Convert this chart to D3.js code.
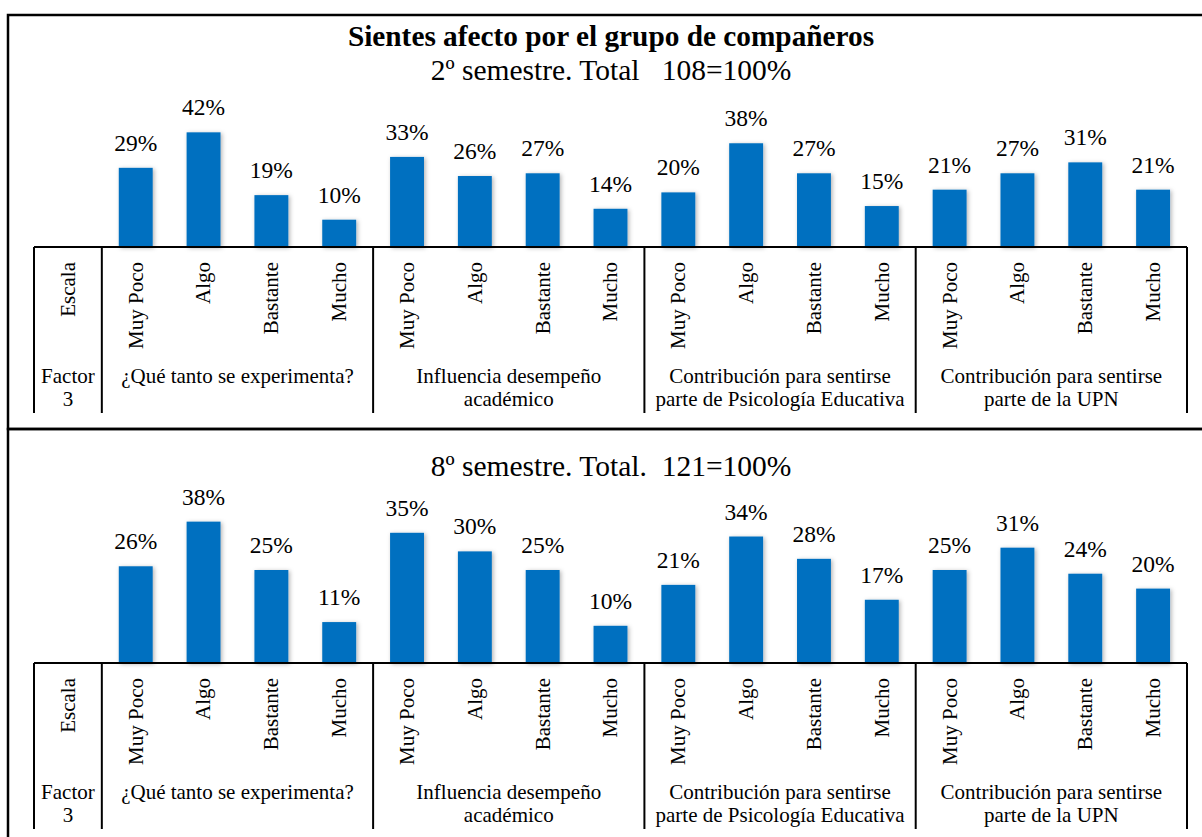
<!DOCTYPE html>
<html>
<head>
<meta charset="utf-8">
<script src="https://cdn.jsdelivr.net/npm/d3@7"></script>
<style>
  html, body { margin: 0; padding: 0; background: #fff; }
</style>
</head>
<body>
<div id="chart"></div>
<script>
// データ
const title = 'Sientes afecto por el grupo de compañeros';
const subtitle2 = '2º semestre. Total   108=100%';
const subtitle8 = '8º semestre. Total.  121=100%';
const scaleLabels = ['Muy Poco', 'Algo', 'Bastante', 'Mucho'];
const groupLabels = [
  ['¿Qué tanto se experimenta?'],
  ['Influencia desempeño', 'académico'],
  ['Contribución para sentirse', 'parte de Psicología Educativa'],
  ['Contribución para sentirse', 'parte de la UPN']
];
const values2 = [29, 42, 19, 10, 33, 26, 27, 14, 20, 38, 27, 15, 21, 27, 31, 21];
const values8 = [26, 38, 25, 11, 35, 30, 25, 10, 21, 34, 28, 17, 25, 31, 24, 20];

const width = 1202;
const height = 837;
const barColor = '#0070c0';

const svg = d3.select('#chart').append('svg')
  .attr('width', width)
  .attr('height', height)
  .attr('font-family', 'Liberation Serif, Times New Roman, serif')
  .attr('fill', '#000');

// 影のフィルター
svg.append('defs').append('filter')
  .attr('id', 'shadow')
  .attr('x', '-30%').attr('y', '-10%')
  .attr('width', '160%').attr('height', '130%')
  .append('feDropShadow')
  .attr('dx', 1.5).attr('dy', 1)
  .attr('stdDeviation', 2)
  .attr('flood-color', '#000')
  .attr('flood-opacity', 0.3);

// 列のキー: Escala + 4グループ x 4段階
const slots = ['escala'];
groupLabels.forEach(function (g, i) {
  scaleLabels.forEach(function (s, j) { slots.push(i + '-' + j); });
});

const xScale = d3.scaleBand()
  .domain(slots)
  .range([34, 1187])
  .padding(0);
const bw = xScale.bandwidth();

// 外枠
svg.append('rect')
  .attr('x', 8).attr('y', 15)
  .attr('width', 1210).attr('height', 414)
  .attr('fill', 'none').attr('stroke', '#000').attr('stroke-width', 2.5);
svg.append('rect')
  .attr('x', 8).attr('y', 429)
  .attr('width', 1210).attr('height', 430)
  .attr('fill', 'none').attr('stroke', '#000').attr('stroke-width', 2.5);

// タイトル
svg.append('text')
  .attr('x', 611).attr('y', 46)
  .attr('text-anchor', 'middle')
  .attr('font-size', 29.3)
  .attr('font-weight', 'bold')
  .text(title);

function drawPanel(opts) {
  const g = svg.append('g');
  const base = opts.base;
  const yScale = d3.scaleLinear()
    .domain([0, opts.yMax])
    .range([base, base - opts.yMax * opts.pxPerPct]);

  g.append('text')
    .attr('x', 611).attr('y', opts.subY)
    .attr('text-anchor', 'middle')
    .attr('xml:space', 'preserve')
    .style('white-space', 'pre')
    .attr('font-size', 29.5)
    .text(opts.subtitle);

  const data = opts.values.map(function (v, i) {
    return { key: slots[i + 1], value: v };
  });

  // バー
  g.selectAll('rect.bar')
    .data(data)
    .join('rect')
    .attr('class', 'bar')
    .attr('x', function (d) { return xScale(d.key) + bw * 0.25; })
    .attr('width', bw * 0.5)
    .attr('y', function (d) { return yScale(d.value); })
    .attr('height', function (d) { return base - yScale(d.value); })
    .attr('fill', barColor)
    .attr('filter', 'url(#shadow)');

  // 値ラベル
  g.selectAll('text.val')
    .data(data)
    .join('text')
    .attr('class', 'val')
    .attr('x', function (d) { return xScale(d.key) + bw / 2; })
    .attr('y', function (d) { return yScale(d.value) - 17; })
    .attr('text-anchor', 'middle')
    .attr('font-size', 23.5)
    .text(function (d) { return d.value + '%'; });

  // 表の線
  const bottom = base + 166;
  g.append('line')
    .attr('x1', 34).attr('x2', 1187)
    .attr('y1', base).attr('y2', base)
    .attr('stroke', '#000').attr('stroke-width', 2);

  const seps = [34, xScale('0-0'), xScale('1-0'), xScale('2-0'), xScale('3-0'), 1187];
  g.selectAll('line.sep')
    .data(seps)
    .join('line')
    .attr('class', 'sep')
    .attr('x1', function (d) { return d; })
    .attr('x2', function (d) { return d; })
    .attr('y1', base).attr('y2', bottom)
    .attr('stroke', '#000').attr('stroke-width', 2);

  // 回転ラベル
  const rotLabels = ['Escala'];
  groupLabels.forEach(function () { rotLabels.push.apply(rotLabels, scaleLabels); });
  g.selectAll('text.rot')
    .data(slots)
    .join('text')
    .attr('class', 'rot')
    .attr('transform', function (d) {
      return 'translate(' + (xScale(d) + bw / 2) + ',' + (base + 15) + ') rotate(-90)';
    })
    .attr('dy', '0.33em')
    .attr('text-anchor', 'end')
    .attr('font-size', 21)
    .text(function (d, i) { return rotLabels[i]; });

  // Factor 3
  const factor = g.append('text')
    .attr('text-anchor', 'middle')
    .attr('font-size', 21);
  ['Factor', '3'].forEach(function (t, i) {
    factor.append('tspan')
      .attr('x', xScale('escala') + bw / 2)
      .attr('y', base + 136 + i * 23)
      .text(t);
  });

  // グループラベル
  groupLabels.forEach(function (lines, gi) {
    const cx = (xScale(gi + '-0') + xScale(gi + '-3') + bw) / 2;
    const t = g.append('text')
      .attr('text-anchor', 'middle')
      .attr('font-size', 21);
    lines.forEach(function (line, li) {
      t.append('tspan')
        .attr('x', cx)
        .attr('y', base + 136 + li * 23)
        .text(line);
    });
  });
}

drawPanel({ subtitle: subtitle2, subY: 80, values: values2, base: 247, yMax: 50, pxPerPct: 2.73 });
drawPanel({ subtitle: subtitle8, subY: 476, values: values8, base: 663, yMax: 40, pxPerPct: 3.72 });
</script>
</body>
</html>
